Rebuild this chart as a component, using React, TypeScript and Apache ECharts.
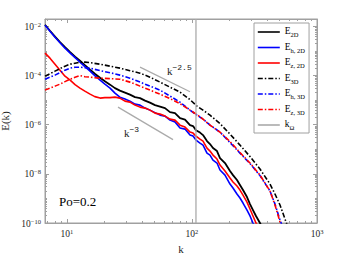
import React, { useEffect, useRef } from 'react';
import * as echarts from 'echarts';

const kMin = 6.67;
const kMax = 1000;
const eMin = 1e-10;
const eMax = 0.02;

const kSolid = [
  6.67, 7.31, 8.02, 8.79, 9.64, 10.6, 11.6, 12.7, 13.9, 15.3,
  16.7, 18.4, 20.1, 22.1, 24.2, 26.5, 29.1, 31.9, 35.0, 38.4,
  42.1, 46.1, 50.6, 55.5, 60.8, 66.7, 73.1, 80.2, 87.9, 96.4,
  101.9, 107.6, 115.9, 122.5, 131.8, 139.3, 147.2, 158.5, 167.5, 183.7,
  201.4, 212.8, 229, 242, 255.9, 275.4, 291.1, 307.6, 325, 349.9,
  369.8,
];
const e2D = [
  1.17e-2, 6.68e-3, 3.81e-3, 2.28e-3, 1.43e-3, 8.93e-4, 5.86e-4, 4.04e-4, 2.65e-4, 1.74e-4,
  1.19e-4, 8.2e-5, 5.9e-5, 4.27e-5, 3.08e-5, 2.43e-5, 2.02e-5, 1.67e-5, 1.32e-5, 1.21e-5,
  9.5e-6, 7.9e-6, 6.27e-6, 5.44e-6, 4.73e-6, 3.25e-6, 2.96e-6, 1.85e-6, 1.61e-6, 9.6e-7,
  8.8e-7, 6.0e-7, 4.77e-7, 3.78e-7, 2.15e-7, 1.63e-7, 1.12e-7, 8.45e-8, 4.4e-8, 2.75e-8,
  1.3e-8, 8.9e-9, 5.6e-9, 3.51e-9, 2.19e-9, 1.14e-9, 5.9e-10, 3.37e-10, 1.93e-10, 1.0e-10,
  5.7e-11,
];
const eH2D = [
  1.12e-2, 6.38e-3, 3.64e-3, 2.17e-3, 1.3e-3, 8.15e-4, 5.35e-4, 3.51e-4, 2.3e-4, 1.51e-4,
  9.9e-5, 6.5e-5, 4.47e-5, 3.08e-5, 1.93e-5, 1.32e-5, 1.1e-5, 9.1e-6, 6.87e-6, 6.27e-6,
  4.73e-6, 3.92e-6, 3.1e-6, 2.45e-6, 2.24e-6, 1.54e-6, 1.28e-6, 7.28e-7, 6.62e-7, 3.78e-7,
  3.44e-7, 2.37e-7, 1.79e-7, 1.48e-7, 7.0e-8, 5.8e-8, 3.64e-8, 2.75e-8, 1.43e-8, 8.9e-9,
  3.85e-9, 2.65e-9, 1.51e-9, 1.04e-9, 6.5e-10, 3.37e-10, 1.93e-10, 1.0e-10, 5.7e-11, 2.96e-11,
  1.69e-11,
];
const eZ2D = [
  8.15e-4, 5.09e-4, 2.9e-4, 1.66e-4, 9.46e-5, 6.5e-5, 4.27e-5, 3.08e-5, 2.32e-5, 1.75e-5,
  1.39e-5, 1.21e-5, 1.26e-5, 1.26e-5, 1.32e-5, 1.21e-5, 9.1e-6, 8.3e-6, 6.27e-6, 5.19e-6,
  4.73e-6, 3.92e-6, 2.96e-6, 2.7e-6, 2.24e-6, 1.69e-6, 1.54e-6, 9.6e-7, 8.0e-7, 5.0e-7,
  4.56e-7, 3.44e-7, 2.6e-7, 2.15e-7, 1.12e-7, 8.45e-8, 5.8e-8, 4.0e-8, 2.28e-8, 1.3e-8,
  6.75e-9, 4.65e-9, 3.19e-9, 2.19e-9, 1.37e-9, 7.1e-10, 3.7e-10, 1.93e-10, 1.0e-10, 5.19e-11,
  2.96e-11,
];

const kDash = [
  6.67, 7.31, 8.02, 8.79, 9.64, 10.6, 11.6, 12.7, 13.9, 15.3,
  18.4, 22.1, 26.5, 31.9, 38.4, 46.1, 55.5, 66.7, 80.2, 96.4,
  109.6, 122.5, 139.3, 167.5, 201.4, 242, 291.1, 349.9, 420.7, 461.3,
  505.8, 554.6, 608,
];
const e3D = [
  9.46e-5, 1.19e-4, 1.51e-4, 1.91e-4, 2.41e-4, 2.9e-4, 3.19e-4, 3.51e-4, 3.51e-4, 3.34e-4,
  2.9e-4, 2.41e-4, 2.0e-4, 1.58e-4, 1.25e-4, 8.6e-5, 5.4e-5, 3.37e-5, 2.11e-5, 1.05e-5,
  5.7e-6, 3.92e-6, 2.45e-6, 1.11e-6, 4.15e-7, 1.48e-7, 5.05e-8, 1.57e-8, 3.85e-9, 1.51e-9,
  5.4e-10, 1.45e-10, 3.92e-11,
];
const eH3D = [
  7.1e-5, 8.6e-5, 1.04e-4, 1.31e-4, 1.66e-4, 2.0e-4, 2.19e-4, 2.19e-4, 2.09e-4, 2.0e-4,
  1.58e-4, 1.31e-4, 1.04e-4, 7.8e-5, 5.4e-5, 3.71e-5, 2.55e-5, 1.46e-5, 8.3e-6, 3.92e-6,
  2.45e-6, 1.69e-6, 9.6e-7, 5.0e-7, 1.87e-7, 7.0e-8, 2.62e-8, 8.5e-9, 2.0e-9, 5.9e-10,
  1.32e-10, 3.92e-11, 1.28e-11,
];
const eZ3D = [
  2.55e-5, 3.08e-5, 3.71e-5, 4.47e-5, 5.65e-5, 7.1e-5, 8.6e-5, 9.9e-5, 9.0e-5, 8.6e-5,
  7.8e-5, 7.5e-5, 7.1e-5, 5.4e-5, 3.71e-5, 2.55e-5, 1.75e-5, 1.15e-5, 7.2e-6, 3.92e-6,
  2.58e-6, 1.69e-6, 9.6e-7, 5.0e-7, 2.06e-7, 7.35e-8, 2.75e-8, 8.9e-9, 2.0e-9, 5.4e-10,
  1.1e-10, 3.25e-11, 1.06e-11,
];

const kOmega = 107.6;
const ref25K = [38.4, 96.4];
const ref25E = [2.19e-4, 2.19e-5];
const ref3K = [25.6, 70.5];
const ref3E = [5.19e-6, 2.48e-7];

const xMajor = [10, 100, 1000];
const xMinor = [7, 8, 9, 20, 30, 40, 50, 60, 70, 80, 90, 200, 300, 400, 500, 600, 700, 800, 900];
const yMajor = [1e-10, 1e-8, 1e-6, 1e-4, 1e-2];
const yMinorMant = [2, 3, 4, 5, 6, 7, 8, 9];
const yOddDecades = [1e-9, 1e-7, 1e-5, 1e-3];

const legendNames = ['E2D', 'Eh2D', 'Ez2D', 'E3D', 'Eh3D', 'Ez3D', 'kO'];
const legendLabels: Record<string, string> = {
  E2D: '{e|E}{s|2D}',
  Eh2D: '{e|E}{s|h, 2D}',
  Ez2D: '{e|E}{s|z, 2D}',
  E3D: '{e|E}{s|3D}',
  Eh3D: '{e|E}{s|h, 3D}',
  Ez3D: '{e|E}{s|z, 3D}',
  kO: '{e|k}{s|Ω}',
};

const SERIF = '"Liberation Serif", "Times New Roman", serif';
const AX = '#a0a0a0';
const TXT = '#262626';
const GRAY = '#ababab';
const DASHDOT = [5, 2, 1.5, 2];

function App() {
  const ref = useRef<HTMLDivElement>(null);
  useEffect(() => {
    if (!ref.current) return;
    const chart = echarts.init(ref.current, null, { renderer: 'svg' });
    const yMinor: number[] = [];
    for (let d = -10; d <= -3; d++) {
      for (const m of yMinorMant) yMinor.push(m * Math.pow(10, d));
    }
    yOddDecades.forEach((v) => yMinor.push(v));

    const powLabel = (v: number) => {
      const p = Math.round(Math.log10(v));
      return `{b|10}{s|${p < 0 ? '\u2212' + -p : p}}`;
    };
    const labelRich = {
      b: { fontSize: 9.5, fontFamily: SERIF, color: TXT, lineHeight: 11, verticalAlign: 'bottom' },
      s: { fontSize: 6.5, fontFamily: SERIF, color: TXT, lineHeight: 7, verticalAlign: 'top' },
    };
    const baseX = {
      type: 'log', logBase: 10, min: kMin, max: kMax,
      splitLine: { show: false }, minorTick: { show: false }, minorSplitLine: { show: false },
    };
    const baseY = {
      type: 'log', logBase: 10, min: eMin, max: eMax,
      splitLine: { show: false }, minorTick: { show: false }, minorSplitLine: { show: false },
    };
    const majorTick = (vals: number[]) => ({
      show: true, inside: true, length: 4, customValues: vals, lineStyle: { color: AX, width: 1 },
    });
    const minorTickCfg = (vals: number[]) => ({
      show: true, inside: true, length: 2, customValues: vals, lineStyle: { color: AX, width: 1 },
    });

    const mk = (name: string, ks: number[], es: number[], color: string, dash: boolean, width = 1.6) => ({
      type: 'line', name, data: ks.map((k, i) => [k, es[i]]), symbol: 'none', showSymbol: false,
      lineStyle: { color, width, type: dash ? DASHDOT : 'solid', cap: 'butt' },
      itemStyle: { color }, clip: true, silent: true, smooth: false,
    });

    chart.setOption({
      animation: false,
      backgroundColor: '#fff',
      grid: {
        left: 45, top: 19, right: 34, bottom: 31, containLabel: false, outerBoundsMode: 'none',
        show: true, borderColor: AX, borderWidth: 1, backgroundColor: 'transparent',
      },
      xAxis: [
        {
          ...baseX, position: 'bottom', name: 'k', nameLocation: 'middle', nameGap: 17,
          nameTextStyle: { fontFamily: SERIF, fontSize: 11, color: TXT },
          axisLine: { show: true, lineStyle: { color: AX, width: 1 } },
          axisTick: majorTick(xMajor),
          axisLabel: { show: true, customValues: xMajor, formatter: powLabel, margin: 5, rich: labelRich },
        },
        { ...baseX, position: 'bottom', axisLine: { show: false }, axisTick: minorTickCfg(xMinor), axisLabel: { show: false } },
        { ...baseX, position: 'top', axisLine: { show: true, lineStyle: { color: AX } }, axisTick: majorTick(xMajor), axisLabel: { show: false } },
        { ...baseX, position: 'top', axisLine: { show: false }, axisTick: minorTickCfg(xMinor), axisLabel: { show: false } },
      ],
      yAxis: [
        {
          ...baseY, position: 'left', name: 'E(k)', nameLocation: 'middle', nameGap: 33,
          nameTextStyle: { fontFamily: SERIF, fontSize: 11, color: TXT },
          axisLine: { show: true, lineStyle: { color: AX, width: 1 } },
          axisTick: majorTick(yMajor),
          axisLabel: { show: true, customValues: yMajor, formatter: powLabel, margin: 4, rich: labelRich },
        },
        { ...baseY, position: 'left', axisLine: { show: false }, axisTick: minorTickCfg(yMinor), axisLabel: { show: false } },
        { ...baseY, position: 'right', axisLine: { show: true, lineStyle: { color: AX } }, axisTick: majorTick(yMajor), axisLabel: { show: false } },
        { ...baseY, position: 'right', axisLine: { show: false }, axisTick: minorTickCfg(yMinor), axisLabel: { show: false } },
      ],
      legend: {
        show: true, orient: 'vertical', left: 254, top: 23, padding: [3, 4, 2, 3],
        itemWidth: 22, itemHeight: 10, itemGap: 3.5,
        backgroundColor: '#fff', borderColor: AX, borderWidth: 1, borderRadius: 0,
        selectedMode: false, data: legendNames,
        itemStyle: { opacity: 0, borderWidth: 0 },
        lineStyle: { width: 1.6 },
        formatter: (n: string) => legendLabels[n],
        textStyle: {
          color: '#000',
          rich: {
            e: { fontFamily: SERIF, fontSize: 9.5, lineHeight: 12, color: '#000', verticalAlign: 'top' },
            s: { fontFamily: SERIF, fontSize: 6.5, lineHeight: 7, color: '#000', verticalAlign: 'bottom' },
          },
        },
      },
      graphic: [
        { type: 'text', left: 59, top: 195, style: { text: 'Po=0.2', font: `13px ${SERIF}`, fill: '#000' } },
        {
          type: 'text', x: 167, y: 63,
          style: {
            text: '{k|k}{s|\u22122.5}',
            rich: {
              k: { fontFamily: SERIF, fontSize: 11, lineHeight: 13, verticalAlign: 'bottom', fill: '#222' },
              s: { fontFamily: '"Liberation Mono", monospace', fontSize: 8, lineHeight: 8, verticalAlign: 'top', fill: '#222' },
            },
          },
        },
        {
          type: 'text', x: 124, y: 125,
          style: {
            text: '{k|k}{s|\u22123}',
            rich: {
              k: { fontFamily: SERIF, fontSize: 11, lineHeight: 13, verticalAlign: 'bottom', fill: '#222' },
              s: { fontFamily: '"Liberation Mono", monospace', fontSize: 8, lineHeight: 8, verticalAlign: 'top', fill: '#222' },
            },
          },
        },
      ],
      series: [
        { ...mk('ref25', ref25K, ref25E, GRAY, false, 1.3) },
        { ...mk('ref3', ref3K, ref3E, GRAY, false, 1.3) },
        mk('E2D', kSolid, e2D, '#000000', false, 1.8),
        mk('Eh2D', kSolid, eH2D, '#0000ff', false),
        mk('Ez2D', kSolid, eZ2D, '#ff0000', false),
        mk('E3D', kDash, e3D, '#000000', true),
        mk('Eh3D', kDash, eH3D, '#0000ff', true),
        mk('Ez3D', kDash, eZ3D, '#ff0000', true),
        mk('kO', [kOmega, kOmega], [eMin, eMax], GRAY, false, 1.3),
      ],
    });
    return () => chart.dispose();
  }, []);
  return <div ref={ref} style={{ position: 'absolute', left: 0, top: 0, width: 351, height: 254 }} />;
}

export default App;
